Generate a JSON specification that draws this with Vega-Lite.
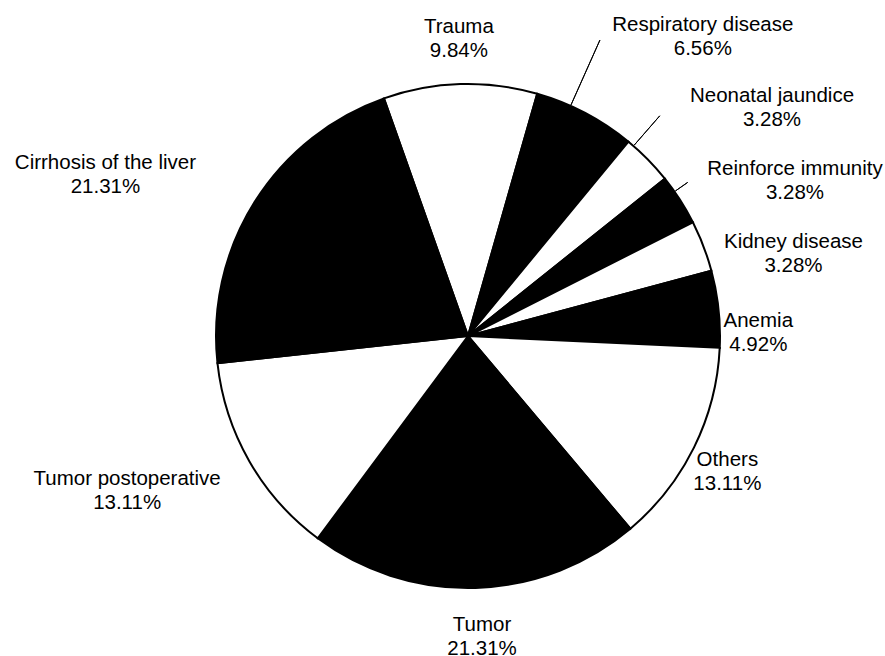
{
  "$schema": "https://vega.github.io/schema/vega-lite/v6.json",
  "width": 834,
  "height": 640,
  "autosize": {"type": "none"},
  "padding": {"left": 51, "top": 16, "right": 0, "bottom": 0},
  "background": "white",
  "config": {"view": {"stroke": null}},
  "data": {"values": [
    {"name": "Trauma", "value": 9.84, "order": 1},
    {"name": "Respiratory disease", "value": 6.56, "order": 2},
    {"name": "Neonatal jaundice", "value": 3.28, "order": 3},
    {"name": "Reinforce immunity", "value": 3.28, "order": 4},
    {"name": "Kidney disease", "value": 3.28, "order": 5},
    {"name": "Anemia", "value": 4.92, "order": 6},
    {"name": "Others", "value": 13.11, "order": 7},
    {"name": "Tumor", "value": 21.31, "order": 8},
    {"name": "Tumor postoperative", "value": 13.11, "order": 9},
    {"name": "Cirrhosis of the liver", "value": 21.31, "order": 10}
  ]},
  "transform": [
    {"stack": "value", "groupby": [], "sort": [{"field": "order", "order": "ascending"}], "as": ["v0", "v1"]},
    {"calculate": "(datum.v0 + datum.v1) / 2", "as": "vm"},
    {"calculate": "datum.name + '\\n' + format(datum.value, '.2f') + '%'", "as": "label"}
  ],
  "layer": [
    {
      "mark": {"type": "arc", "outerRadius": 252, "stroke": "black", "strokeWidth": 2},
      "encoding": {
        "theta": {"field": "v0", "type": "quantitative", "scale": {"domain": [0, 100], "range": [-0.34, 5.9432]}},
        "theta2": {"field": "v1"},
        "color": {"field": "name", "type": "nominal", "legend": null,
          "scale": {"domain": ["Trauma", "Respiratory disease", "Neonatal jaundice", "Reinforce immunity", "Kidney disease", "Anemia", "Others", "Tumor", "Tumor postoperative", "Cirrhosis of the liver"],
                    "range": ["white", "black", "white", "black", "white", "black", "white", "black", "white", "black"]}}
      }
    },
    {
      "transform": [{"filter": "datum.name === 'Respiratory disease'"}],
      "mark": {"type": "arc", "innerRadius": 253, "outerRadius": 324, "padAngle": 1.2, "thetaOffset": -0.065, "theta2Offset": -0.065, "filled": false, "stroke": "black", "strokeWidth": 1},
      "encoding": {
        "theta": {"field": "v0", "type": "quantitative", "scale": {"domain": [0, 100], "range": [-0.34, 5.9432]}},
        "theta2": {"field": "v1"}
      }
    },
    {
      "transform": [{"filter": "datum.name === 'Neonatal jaundice'"}],
      "mark": {"type": "arc", "innerRadius": 253, "outerRadius": 292, "padAngle": 1.2, "thetaOffset": -0.077, "theta2Offset": -0.077, "filled": false, "stroke": "black", "strokeWidth": 1},
      "encoding": {
        "theta": {"field": "v0", "type": "quantitative", "scale": {"domain": [0, 100], "range": [-0.34, 5.9432]}},
        "theta2": {"field": "v1"}
      }
    },
    {
      "transform": [{"filter": "datum.name === 'Reinforce immunity'"}],
      "mark": {"type": "arc", "innerRadius": 253, "outerRadius": 268, "padAngle": 1.2, "thetaOffset": -0.039, "theta2Offset": -0.039, "filled": false, "stroke": "black", "strokeWidth": 1},
      "encoding": {
        "theta": {"field": "v0", "type": "quantitative", "scale": {"domain": [0, 100], "range": [-0.34, 5.9432]}},
        "theta2": {"field": "v1"}
      }
    },
    {
      "transform": [{"filter": "datum.name === 'Trauma'"}],
      "mark": {"type": "text", "radius": 296, "dx": 0, "dy": -13, "font": "Liberation Sans", "fontSize": 20.5, "lineBreak": "\n", "lineHeight": 24, "align": "center", "baseline": "middle", "color": "black"},
      "encoding": {"theta": {"field": "vm", "type": "quantitative", "scale": {"domain": [0, 100], "range": [-0.34, 5.9432]}}, "text": {"field": "label"}}
    },
    {
      "transform": [{"filter": "datum.name === 'Respiratory disease'"}],
      "mark": {"type": "text", "radius": 296, "dx": 97, "dy": -49, "font": "Liberation Sans", "fontSize": 20.5, "lineBreak": "\n", "lineHeight": 24, "align": "center", "baseline": "middle", "color": "black"},
      "encoding": {"theta": {"field": "vm", "type": "quantitative", "scale": {"domain": [0, 100], "range": [-0.34, 5.9432]}}, "text": {"field": "label"}}
    },
    {
      "transform": [{"filter": "datum.name === 'Neonatal jaundice'"}],
      "mark": {"type": "text", "radius": 296, "dx": 93, "dy": -32, "font": "Liberation Sans", "fontSize": 20.5, "lineBreak": "\n", "lineHeight": 24, "align": "center", "baseline": "middle", "color": "black"},
      "encoding": {"theta": {"field": "vm", "type": "quantitative", "scale": {"domain": [0, 100], "range": [-0.34, 5.9432]}}, "text": {"field": "label"}}
    },
    {
      "transform": [{"filter": "datum.name === 'Reinforce immunity'"}],
      "mark": {"type": "text", "radius": 296, "dx": 78, "dy": -7, "font": "Liberation Sans", "fontSize": 20.5, "lineBreak": "\n", "lineHeight": 24, "align": "center", "baseline": "middle", "color": "black"},
      "encoding": {"theta": {"field": "vm", "type": "quantitative", "scale": {"domain": [0, 100], "range": [-0.34, 5.9432]}}, "text": {"field": "label"}}
    },
    {
      "transform": [{"filter": "datum.name === 'Kidney disease'"}],
      "mark": {"type": "text", "radius": 296, "dx": 49, "dy": 12, "font": "Liberation Sans", "fontSize": 20.5, "lineBreak": "\n", "lineHeight": 24, "align": "center", "baseline": "middle", "color": "black"},
      "encoding": {"theta": {"field": "vm", "type": "quantitative", "scale": {"domain": [0, 100], "range": [-0.34, 5.9432]}}, "text": {"field": "label"}}
    },
    {
      "transform": [{"filter": "datum.name === 'Anemia'"}],
      "mark": {"type": "text", "radius": 296, "dx": -4, "dy": 17, "font": "Liberation Sans", "fontSize": 20.5, "lineBreak": "\n", "lineHeight": 24, "align": "center", "baseline": "middle", "color": "black"},
      "encoding": {"theta": {"field": "vm", "type": "quantitative", "scale": {"domain": [0, 100], "range": [-0.34, 5.9432]}}, "text": {"field": "label"}}
    },
    {
      "transform": [{"filter": "datum.name === 'Others'"}],
      "mark": {"type": "text", "radius": 296, "dx": -6, "dy": -7, "font": "Liberation Sans", "fontSize": 20.5, "lineBreak": "\n", "lineHeight": 24, "align": "center", "baseline": "middle", "color": "black"},
      "encoding": {"theta": {"field": "vm", "type": "quantitative", "scale": {"domain": [0, 100], "range": [-0.34, 5.9432]}}, "text": {"field": "label"}}
    },
    {
      "transform": [{"filter": "datum.name === 'Tumor'"}],
      "mark": {"type": "text", "radius": 296, "dx": 5, "dy": -7, "font": "Liberation Sans", "fontSize": 20.5, "lineBreak": "\n", "lineHeight": 24, "align": "center", "baseline": "middle", "color": "black"},
      "encoding": {"theta": {"field": "vm", "type": "quantitative", "scale": {"domain": [0, 100], "range": [-0.34, 5.9432]}}, "text": {"field": "label"}}
    },
    {
      "transform": [{"filter": "datum.name === 'Tumor postoperative'"}],
      "mark": {"type": "text", "radius": 296, "dx": -84, "dy": -4, "font": "Liberation Sans", "fontSize": 20.5, "lineBreak": "\n", "lineHeight": 24, "align": "center", "baseline": "middle", "color": "black"},
      "encoding": {"theta": {"field": "vm", "type": "quantitative", "scale": {"domain": [0, 100], "range": [-0.34, 5.9432]}}, "text": {"field": "label"}}
    },
    {
      "transform": [{"filter": "datum.name === 'Cirrhosis of the liver'"}],
      "mark": {"type": "text", "radius": 296, "dx": -112, "dy": -15, "font": "Liberation Sans", "fontSize": 20.5, "lineBreak": "\n", "lineHeight": 24, "align": "center", "baseline": "middle", "color": "black"},
      "encoding": {"theta": {"field": "vm", "type": "quantitative", "scale": {"domain": [0, 100], "range": [-0.34, 5.9432]}}, "text": {"field": "label"}}
    }
  ]
}
